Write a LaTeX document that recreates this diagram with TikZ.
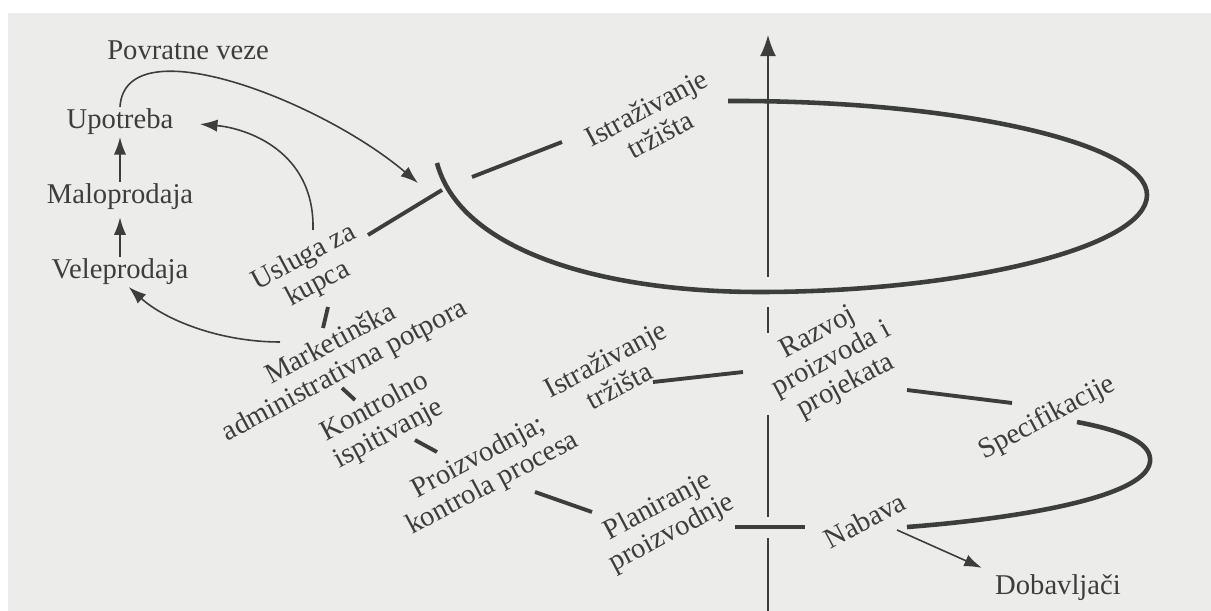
\documentclass[tikz,border=0pt]{standalone}
\usepackage{fontspec}
\setmainfont{Liberation Serif}
\usetikzlibrary{arrows.meta, positioning}
\definecolor{papir}{HTML}{ECECEA}
\definecolor{tinta}{HTML}{3B3E3B}
\tikzset{
	textnode/.style = {text=tinta, inner sep=1pt, font=\fontsize{16.3}{17}\selectfont},
	phase/.style = {textnode, rotate=28, align=center},
	spiral/.style = {draw=tinta, line width=2.6pt},
	bar/.style = {draw=tinta, line width=2.2pt},
	axis/.style = {draw=tinta, line width=0.8pt},
	line/.style = {draw=tinta, line width=0.9pt, -{Latex[length=10pt,width=7pt]}}
}

\begin{document}
\begin{tikzpicture}[x=0.02cm, y=-0.02cm, node distance=1.5cm]
	\fill[white] (0,0) rectangle (1211,611);
	\fill[papir] (8,13) rectangle (1211,611);
	\useasboundingbox (0,0) rectangle (1211,611);

	% lanac prodaje
	\node (upotreba) [textnode] at (120,122) {Upotreba};
	\node (malo) [textnode, below of=upotreba] {Maloprodaja};
	\node (vele) [textnode, below of=malo] {Veleprodaja};
	\node (povratne) [textnode] at (188,50) {Povratne veze};

	% faze spirale
	\node (istrA) [phase] at (653,121) {Istraživanje\\tržišta};
	\node (usluga) [phase] at (311,271) {Usluga za\\kupca};
	\node (market) [phase] at (338,358) {Marketinška\\administrativna potpora};
	\node (kontrola) [phase] at (382,421) {Kontrolno\\ispitivanje};
	\node (proizv) [phase] at (486,471) {Proizvodnja;\\kontrola procesa};
	\node (istrB) [phase] at (612,372) {Istraživanje\\tržišta};
	\node (plan) [phase] at (665,520) {Planiranje\\proizvodnje};
	\node (razvoj) [phase] at (832,360) {Razvoj\\proizvoda i\\projekata};
	\node (spec) [phase] at (1047,418) {Specifikacije};
	\node (nabava) [phase] at (865,520) {Nabava};
	\node (dobav) [textnode] at (1058,588) {Dobavljači};

	% tocke spojeva
	\coordinate (spoj) at (442,190);
	\coordinate (povratniKraj) at (418,183);
	\coordinate (uslugaPoc) at (313,230);
	\coordinate (marketPoc) at (280,342);
	\coordinate (nabavaIzlaz) at (897,530);
	\coordinate (vrh) at (768,35);
	\coordinate (os) at (768,277);

	% os
	\draw[axis] (768,611) -- (768,538) (768,517) -- (768,415) (768,333) -- (768,307);
	\path [line, -{Latex[length=12pt,width=9pt]}] (os) -- (vrh);

	% spirala
	\draw[spiral] (728,101) .. controls (955,100) and (1147,143) .. (1147,195)
		.. controls (1147,248) and (960,292) .. (760,292)
		.. controls (600,292) and (460,250) .. (437,163);
	\draw[spiral] (907,527) .. controls (1000,520) and (1145,500) .. (1150,462)
		.. controls (1152,445) and (1130,432) .. (1077,422);
	\draw[bar] (368,235) -- (spoj);
	\draw[bar] (472,177) -- (562,142);
	\draw[bar] (328,307) -- (323,328);
	\draw[bar] (342,388) -- (355,400);
	\draw[bar] (415,440) -- (437,452);
	\draw[bar] (535,492) -- (592,512);
	\draw[bar] (735,527) -- (805,527);
	\draw[bar] (653,382) -- (743,372);
	\draw[bar] (907,390) -- (1012,403);

	% strelice
	\path [line] (malo) -- (upotreba);
	\path [line, shorten >=3pt] (vele) -- (malo);
	\path [line] (upotreba.north) .. controls (125,25) and (320,100) .. (povratniKraj);
	\path [line, shorten >=14pt] (uslugaPoc) .. controls (315,150) and (245,128) .. (upotreba.east);
	\path [line] (marketPoc) .. controls (220,342) and (165,320) .. ([xshift=5pt]vele.south);
	\path [line, shorten >=7pt] (nabavaIzlaz) -- (dobav.north west);
\end{tikzpicture}
\end{document}
